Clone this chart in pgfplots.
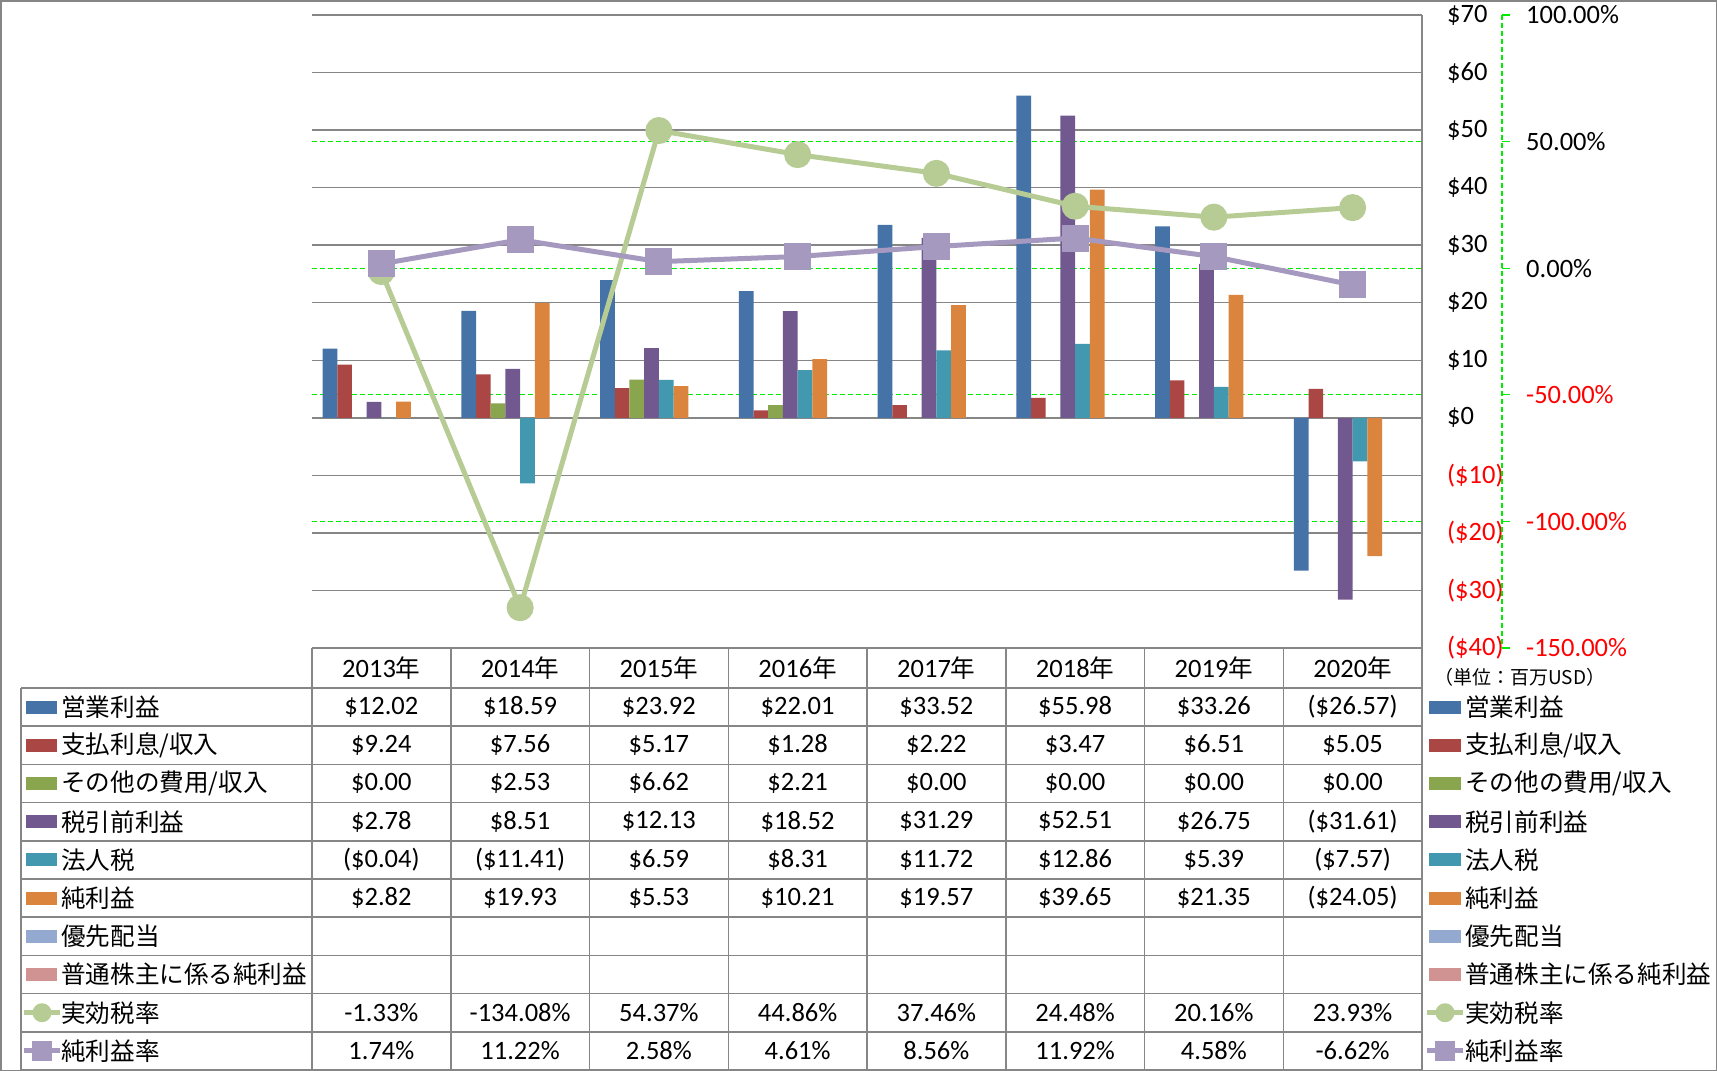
\documentclass[border=0pt]{standalone}
\usepackage{pgfplots}
\pgfplotsset{compat=1.18}
\usepackage{fontspec}
\setmainfont{Carlito}
\newfontfamily\jp{Noto Sans CJK JP}

\definecolor{cBlue}{HTML}{4572A7}
\definecolor{cRed}{HTML}{AA4643}
\definecolor{cGreen}{HTML}{89A54E}
\definecolor{cPurple}{HTML}{71588F}
\definecolor{cTeal}{HTML}{4198AF}
\definecolor{cOrange}{HTML}{DB843D}
\definecolor{cLBlue}{HTML}{93A9CF}
\definecolor{cPink}{HTML}{D19392}
\definecolor{cGreenL}{RGB}{183,204,148}
\definecolor{cPurpL}{RGB}{166,153,191}
\definecolor{gridgray}{RGB}{134,134,134}
\definecolor{bgreen}{RGB}{0,235,0}

\newcommand\fs{\fontsize{26.5}{31}\selectfont}
\newcommand\jpfs{\jp\fontsize{24.6}{29}\selectfont}

\newcommand\trow[9]{%
  \foreach \v [count=\k from 0] in {{#2},{#3},{#4},{#5},{#6},{#7},{#8},{#9}} {%
    \node[font=\fs, inner sep=0pt] at ({312+138.75*(\k+0.5)}, {707.1+38.2*#1}) {\v};}%
}
\newcommand\legrow[3]{%
  \fill[#2] (26,{707.1+38.2*#1-6.5}) rectangle (57,{707.1+38.2*#1+6.5});
  \node[anchor=west, inner sep=0pt, font=\jpfs] at (61,{707.1+38.2*#1}) {#3};
  \fill[#2] (1429,{707.1+38.2*#1-6.5}) rectangle (1461,{707.1+38.2*#1+6.5});
  \node[anchor=west, inner sep=0pt, font=\jpfs] at (1465,{707.1+38.2*#1}) {#3};
}

\begin{document}
\begin{tikzpicture}[x=1pt,y=-1pt]
\path[use as bounding box] (0,0) rectangle (1717,1071);

% bars axis
\begin{axis}[at={(312pt,-648pt)}, anchor=south west, scale only axis,
  width=1110pt, height=633pt,
  xmin=-0.5, xmax=7.5, ymin=-40, ymax=70,
  axis line style={draw=none}, xtick=\empty,
  ytick={-40,-30,-20,-10,0,10,20,30,40,50,60,70},
  yticklabels={{\color{red}(\$40)},{\color{red}(\$30)},{\color{red}(\$20)},{\color{red}(\$10)},\$0,\$10,\$20,\$30,\$40,\$50,\$60,\$70},
  yticklabel pos=right,
  yticklabel style={anchor=west, inner sep=0pt, xshift=25pt, font=\fs},
  major tick length=0pt,
  ymajorgrids, major grid style={gridgray, line width=1.5pt},
  extra y ticks={-18,4,26,48}, extra y tick labels={},
  extra y tick style={grid=major, major grid style={bgreen, line width=1.2pt, dash pattern=on 5pt off 3pt}},
  ybar, bar width=14.7pt, clip=false]
\addplot[fill=cBlue, draw=none, bar shift=-51.45pt] coordinates {(0,12.02) (1,18.59) (2,23.92) (3,22.01) (4,33.52) (5,55.98) (6,33.26) (7,-26.57)};
\addplot[fill=cRed, draw=none, bar shift=-36.75pt] coordinates {(0,9.24) (1,7.56) (2,5.17) (3,1.28) (4,2.22) (5,3.47) (6,6.51) (7,5.05)};
\addplot[fill=cGreen, draw=none, bar shift=-22.05pt] coordinates {(0,0) (1,2.53) (2,6.62) (3,2.21) (4,0) (5,0) (6,0) (7,0)};
\addplot[fill=cPurple, draw=none, bar shift=-7.35pt] coordinates {(0,2.78) (1,8.51) (2,12.13) (3,18.52) (4,31.29) (5,52.51) (6,26.75) (7,-31.61)};
\addplot[fill=cTeal, draw=none, bar shift=7.35pt] coordinates {(0,-0.04) (1,-11.41) (2,6.59) (3,8.31) (4,11.72) (5,12.86) (6,5.39) (7,-7.57)};
\addplot[fill=cOrange, draw=none, bar shift=22.05pt] coordinates {(0,2.82) (1,19.93) (2,5.53) (3,10.21) (4,19.57) (5,39.65) (6,21.35) (7,-24.05)};
\end{axis}

% lines axis
\begin{axis}[at={(312pt,-648pt)}, anchor=south west, scale only axis,
  width=1110pt, height=633pt,
  xmin=-0.5, xmax=7.5, ymin=-150, ymax=100,
  axis line style={draw=none}, xtick=\empty,
  ytick={-150,-100,-50,0,50,100},
  yticklabels={{\color{red}-150.00\%},{\color{red}-100.00\%},{\color{red}-50.00\%},0.00\%,50.00\%,100.00\%},
  yticklabel pos=right,
  yticklabel style={anchor=west, inner sep=0pt, xshift=104pt, font=\fs},
  major tick length=0pt, clip=false]
\addplot[color=cGreenL, line width=5pt, mark=*, mark size=11pt, mark options={draw=none, fill=cGreenL}] coordinates {(0,-1.33) (1,-134.08) (2,54.37) (3,44.86) (4,37.46) (5,24.48) (6,20.16) (7,23.93)};
\addplot[color=cPurpL, line width=5pt, mark=square*, mark size=11pt, mark options={draw=none, fill=cPurpL}] coordinates {(0,1.74) (1,11.22) (2,2.58) (3,4.61) (4,8.56) (5,11.92) (6,4.58) (7,-6.62)};
\end{axis}

% secondary axis line
\draw[bgreen, line width=1.2pt, dash pattern=on 5pt off 3pt] (1502,15) -- (1502,648);
\foreach \i in {0,...,5} {\draw[bgreen, line width=1.2pt] (1502,{15+126.6*\i}) -- (1510,{15+126.6*\i});}

% plot right border & table
\draw[gridgray, line width=1.5pt] (1422,15) -- (1422,1070);
\draw[gridgray, line width=1.5pt] (312,648) -- (1422,648);
\foreach \i in {0,...,9} {\draw[gridgray, line width=1.5pt] (21,{688+38.2*\i}) -- (1422,{688+38.2*\i});}
\draw[gridgray, line width=1.5pt] (21,1070) -- (1422,1070);
\draw[gridgray, line width=1.5pt] (21,688) -- (21,1070);
\foreach \k in {0,...,7} {\draw[gridgray, line width=1.5pt] ({312+138.75*\k},648) -- ({312+138.75*\k},1070);}

% header
\foreach \y [count=\k from 0] in {2013,2014,2015,2016,2017,2018,2019,2020} {
  \node[font=\fs, inner sep=0pt] at ({312+138.75*(\k+0.5)}, 668) {\y{\jpfs 年}};}

% values
\trow{0}{\$12.02}{\$18.59}{\$23.92}{\$22.01}{\$33.52}{\$55.98}{\$33.26}{(\$26.57)}
\trow{1}{\$9.24}{\$7.56}{\$5.17}{\$1.28}{\$2.22}{\$3.47}{\$6.51}{\$5.05}
\trow{2}{\$0.00}{\$2.53}{\$6.62}{\$2.21}{\$0.00}{\$0.00}{\$0.00}{\$0.00}
\trow{3}{\$2.78}{\$8.51}{\$12.13}{\$18.52}{\$31.29}{\$52.51}{\$26.75}{(\$31.61)}
\trow{4}{(\$0.04)}{(\$11.41)}{\$6.59}{\$8.31}{\$11.72}{\$12.86}{\$5.39}{(\$7.57)}
\trow{5}{\$2.82}{\$19.93}{\$5.53}{\$10.21}{\$19.57}{\$39.65}{\$21.35}{(\$24.05)}
\trow{8}{-1.33\%}{-134.08\%}{54.37\%}{44.86\%}{37.46\%}{24.48\%}{20.16\%}{23.93\%}
\trow{9}{1.74\%}{11.22\%}{2.58\%}{4.61\%}{8.56\%}{11.92\%}{4.58\%}{-6.62\%}

% legends
\legrow{0}{cBlue}{営業利益}
\legrow{1}{cRed}{支払利息/収入}
\legrow{2}{cGreen}{その他の費用/収入}
\legrow{3}{cPurple}{税引前利益}
\legrow{4}{cTeal}{法人税}
\legrow{5}{cOrange}{純利益}
\legrow{6}{cLBlue}{優先配当}
\legrow{7}{cPink}{普通株主に係る純利益}
% line legend rows
\foreach \xx in {0,1403} {
  \draw[cGreenL, line width=5pt] ({24+\xx},{707.1+38.2*8}) -- ({60+\xx},{707.1+38.2*8});
  \fill[cGreenL] ({42+\xx},{707.1+38.2*8}) circle (9.5);
  \draw[cPurpL, line width=5pt] ({24+\xx},{707.1+38.2*9}) -- ({60+\xx},{707.1+38.2*9});
  \fill[cPurpL] ({32+\xx},{707.1+38.2*9-10}) rectangle ({52+\xx},{707.1+38.2*9+10});
}
\node[anchor=west, inner sep=0pt, font=\jpfs] at (61,{707.1+38.2*8}) {実効税率};
\node[anchor=west, inner sep=0pt, font=\jpfs] at (61,{707.1+38.2*9}) {純利益率};
\node[anchor=west, inner sep=0pt, font=\jpfs] at (1465,{707.1+38.2*8}) {実効税率};
\node[anchor=west, inner sep=0pt, font=\jpfs] at (1465,{707.1+38.2*9}) {純利益率};

% unit label
\node[anchor=west, inner sep=0pt, font=\jp\fontsize{19}{22}\selectfont] at (1434,677) {（単位：百万USD）};

% outer border
\draw[gridgray, line width=1.5pt] (0.75,0.75) rectangle (1716.25,1070.25);
\end{tikzpicture}
\end{document}
